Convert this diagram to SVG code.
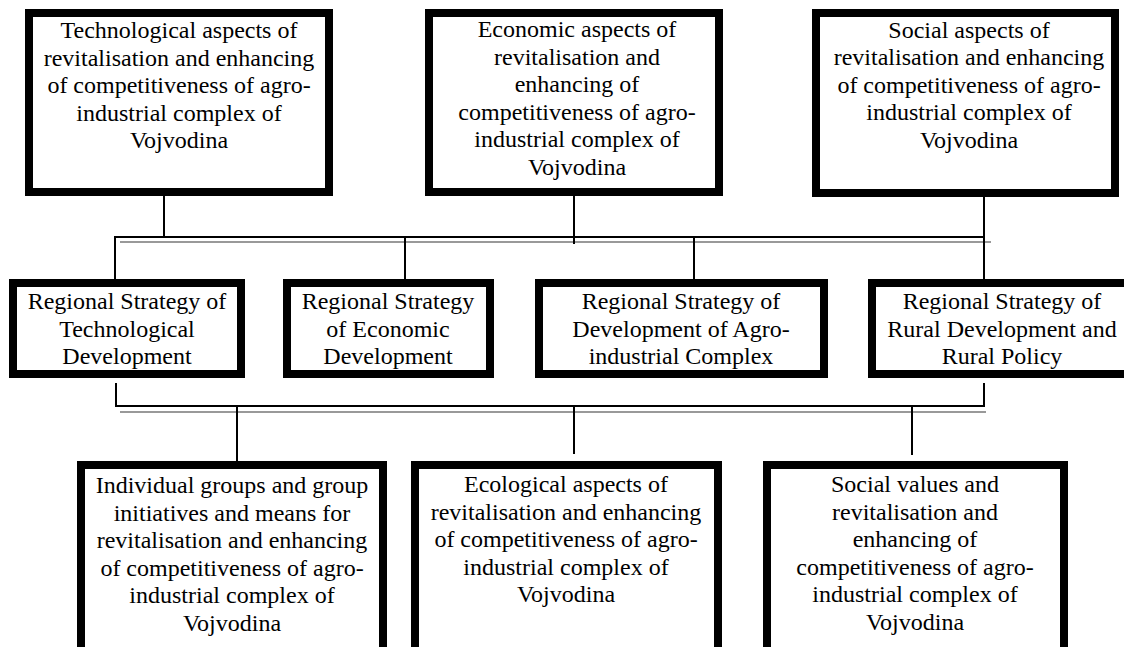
<svg xmlns="http://www.w3.org/2000/svg" width="1124" height="647" viewBox="0 0 1124 647">
<style>
.box{fill:#fff;stroke:#000;stroke-width:8}
.t{font-family:"Liberation Serif","Times New Roman",serif;font-size:24px;fill:#000;text-anchor:middle}
.c{stroke:#000;stroke-width:2;fill:none}
.g{stroke:#999;stroke-width:2;fill:none}
</style>
<rect width="1124" height="647" fill="#fff"/>
<g id="connectors">
<line class="g" x1="120" y1="242" x2="991" y2="242"/>
<line class="g" x1="120" y1="412" x2="986" y2="412"/>
<line class="c" x1="115" y1="237" x2="984" y2="237"/>
<line class="c" x1="164" y1="196" x2="164" y2="237"/>
<line class="c" x1="574" y1="196" x2="574" y2="244"/>
<line class="c" x1="984" y1="197" x2="984" y2="279"/>
<line class="c" x1="115" y1="236" x2="115" y2="279"/>
<line class="c" x1="405" y1="237" x2="405" y2="279"/>
<line class="c" x1="694" y1="237" x2="694" y2="279"/>
<line class="c" x1="116" y1="383" x2="116" y2="407"/>
<line class="c" x1="984" y1="383" x2="984" y2="407"/>
<line class="c" x1="115" y1="406" x2="985" y2="406"/>
<line class="c" x1="237" y1="406" x2="237" y2="461"/>
<line class="c" x1="574" y1="406" x2="574" y2="454"/>
<line class="c" x1="912" y1="406" x2="912" y2="455"/>
</g>
<g id="n1">
<rect class="box" x="29" y="13" width="300" height="179"/>
<text class="t" x="179" y="38">Technological aspects of</text>
<text class="t" x="179" y="65.6">revitalisation and enhancing</text>
<text class="t" x="179" y="93.2">of competitiveness of agro-</text>
<text class="t" x="179" y="120.8">industrial complex of</text>
<text class="t" x="179" y="148.4">Vojvodina</text>
</g>
<g id="n2">
<rect class="box" x="429" y="13" width="290" height="179"/>
<text class="t" x="577" y="37">Economic aspects of</text>
<text class="t" x="577" y="64.6">revitalisation and</text>
<text class="t" x="577" y="92.2">enhancing of</text>
<text class="t" x="577" y="119.8">competitiveness of agro-</text>
<text class="t" x="577" y="147.4">industrial complex of</text>
<text class="t" x="577" y="175">Vojvodina</text>
</g>
<g id="n3">
<rect class="box" x="816" y="13" width="299" height="180"/>
<text class="t" x="969" y="37.5">Social aspects of</text>
<text class="t" x="969" y="65.1">revitalisation and enhancing</text>
<text class="t" x="969" y="92.7">of competitiveness of agro-</text>
<text class="t" x="969" y="120.3">industrial complex of</text>
<text class="t" x="969" y="147.9">Vojvodina</text>
</g>
<g id="nA">
<rect class="box" x="13" y="283" width="228" height="91"/>
<text class="t" x="127" y="309">Regional Strategy of</text>
<text class="t" x="127" y="336.6">Technological</text>
<text class="t" x="127" y="364.2">Development</text>
</g>
<g id="nB">
<rect class="box" x="287" y="283" width="203" height="91"/>
<text class="t" x="388" y="309">Regional Strategy</text>
<text class="t" x="388" y="336.6">of Economic</text>
<text class="t" x="388" y="364.2">Development</text>
</g>
<g id="nC">
<rect class="box" x="539" y="283" width="285" height="91"/>
<text class="t" x="681" y="309">Regional Strategy of</text>
<text class="t" x="681" y="336.6">Development of Agro-</text>
<text class="t" x="681" y="364.2">industrial Complex</text>
</g>
<g id="nD">
<rect class="box" x="872" y="283" width="259" height="91"/>
<text class="t" x="1002" y="309">Regional Strategy of</text>
<text class="t" x="1002" y="336.6">Rural Development and</text>
<text class="t" x="1002" y="364.2">Rural Policy</text>
</g>
<g id="nE">
<rect class="box" x="81" y="465" width="302" height="187"/>
<text class="t" x="232" y="493">Individual groups and group</text>
<text class="t" x="232" y="520.6">initiatives and means for</text>
<text class="t" x="232" y="548.2">revitalisation and enhancing</text>
<text class="t" x="232" y="575.8">of competitiveness of agro-</text>
<text class="t" x="232" y="603.4">industrial complex of</text>
<text class="t" x="232" y="631">Vojvodina</text>
</g>
<g id="nF">
<rect class="box" x="415" y="465" width="303" height="187"/>
<text class="t" x="566" y="492">Ecological aspects of</text>
<text class="t" x="566" y="519.6">revitalisation and enhancing</text>
<text class="t" x="566" y="547.2">of competitiveness of agro-</text>
<text class="t" x="566" y="574.8">industrial complex of</text>
<text class="t" x="566" y="602.4">Vojvodina</text>
</g>
<g id="nG">
<rect class="box" x="767" y="465" width="297" height="187"/>
<text class="t" x="915" y="492">Social values and</text>
<text class="t" x="915" y="519.6">revitalisation and</text>
<text class="t" x="915" y="547.2">enhancing of</text>
<text class="t" x="915" y="574.8">competitiveness of agro-</text>
<text class="t" x="915" y="602.4">industrial complex of</text>
<text class="t" x="915" y="630">Vojvodina</text>
</g>
</svg>
